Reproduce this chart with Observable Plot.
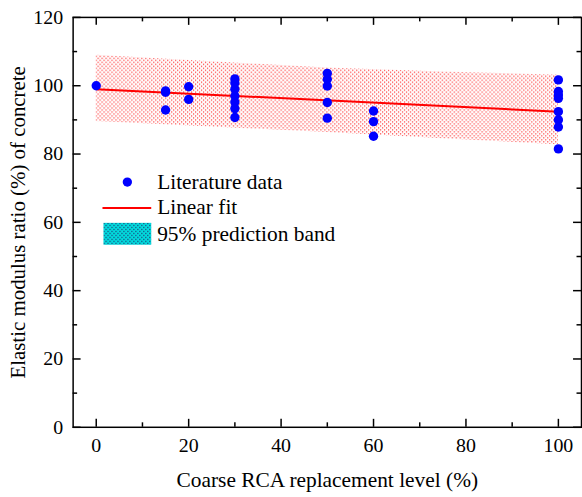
<!DOCTYPE html>
<html>
<head>
<meta charset="utf-8">
<script src="https://cdn.jsdelivr.net/npm/d3@7"></script>
<script src="https://cdn.jsdelivr.net/npm/@observablehq/plot@0.6"></script>
<style>
  html, body { margin: 0; padding: 0; background: #fff; overflow: hidden; }
  svg text { font-family: "Liberation Serif", "Times New Roman", Times, "DejaVu Serif", serif !important; }
</style>
</head>
<body>
<div id="chart"></div>
<script>
// ---- data ----
const pointX = [0, 15, 15, 15, 20, 20, 30, 30, 30, 30, 30, 30, 30, 50, 50, 50, 50, 50, 60, 60, 60, 100, 100, 100, 100, 100, 100, 100, 100];
const pointY = [100, 98.5, 98.1, 92.9, 99.7, 96.0, 102.0, 100.8, 99.0, 97.0, 95.2, 93.3, 90.7, 103.6, 101.9, 99.9, 95.1, 90.5, 92.6, 89.5, 85.2, 101.7, 98.3, 97.3, 96.3, 92.4, 90.0, 87.9, 81.5];
const fitX = [0, 100];
const fitY = [99.0, 92.4];
const bandX = [0, 25, 50, 75, 100];
const bandUpper = [108.9, 107.0, 105.2, 104.0, 103.1];
const bandLower = [89.5, 87.9, 86.3, 84.5, 82.7];
const xMajor = [0, 20, 40, 60, 80, 100];
const xMinor = [10, 30, 50, 70, 90];
const yMajor = [0, 20, 40, 60, 80, 100, 120];
const yMinor = [10, 30, 50, 70, 90, 110];
const xTitle = "Coarse RCA replacement level (%)";
const yTitle = "Elastic modulus ratio (%) of concrete";
const legendLabels = ["Literature data", "Linear fit", "95% prediction band"];

const points = pointX.map((x, i) => ({x, y: pointY[i]}));
const fit = fitX.map((x, i) => ({x, y: fitY[i]}));
const band = bandX.map((x, i) => ({x, lo: bandLower[i], hi: bandUpper[i]}));

const FONT = "'Liberation Serif', 'Times New Roman', Times, 'DejaVu Serif', serif";
const W = 585, H = 497, mL = 73, mR = 1, mT = 17, mB = 68;
const fw = W - mL - mR, fh = H - mT - mB;
const major = 8, minor = 4.5;

const plot = Plot.plot({
  width: W, height: H,
  marginLeft: mL, marginRight: mR, marginTop: mT, marginBottom: mB,
  style: {fontFamily: FONT, fontSize: "20px", color: "#000", background: "#fff"},
  x: {domain: [-5, 105], axis: null},
  y: {domain: [0, 120], axis: null},
  marks: [
    Plot.areaY(band, {x: "x", y1: "lo", y2: "hi", fill: "url(#dotpat)"}),
    Plot.line(fit, {x: "x", y: "y", stroke: "#ff0000", strokeWidth: 2}),
    Plot.dot(points, {x: "x", y: "y", r: 4.7, fill: "#0000ff", stroke: "none"}),
    // frame
    Plot.frame({stroke: "#000", strokeWidth: 1.5}),
    // ticks bottom / top
    Plot.tickX(xMajor, {x: d => d, insetTop: fh - major, stroke: "#000", strokeWidth: 1.5}),
    Plot.tickX(xMinor, {x: d => d, insetTop: fh - minor, stroke: "#000", strokeWidth: 1.5}),
    Plot.tickX(xMajor, {x: d => d, insetBottom: fh - major, stroke: "#000", strokeWidth: 1.5}),
    Plot.tickX(xMinor, {x: d => d, insetBottom: fh - minor, stroke: "#000", strokeWidth: 1.5}),
    // ticks left / right
    Plot.tickY(yMajor, {y: d => d, insetRight: fw - major, stroke: "#000", strokeWidth: 1.5}),
    Plot.tickY(yMinor, {y: d => d, insetRight: fw - minor, stroke: "#000", strokeWidth: 1.5}),
    Plot.tickY(yMajor, {y: d => d, insetLeft: fw - major, stroke: "#000", strokeWidth: 1.5}),
    Plot.tickY(yMinor, {y: d => d, insetLeft: fw - minor, stroke: "#000", strokeWidth: 1.5}),
    // tick labels
    Plot.axisX(xMajor, {tickSize: 0, tickPadding: 11, label: null, fontSize: 20}),
    Plot.axisY(yMajor, {tickSize: 0, tickPadding: 10, label: null, fontSize: 20}),
    // titles
    Plot.text([xTitle], {frameAnchor: "bottom", dy: 53, text: d => d, fontSize: 21.5, lineAnchor: "middle", textAnchor: "middle"}),
    Plot.text([yTitle], {frameAnchor: "left", dx: -55, dy: 0, rotate: -90, text: d => d, fontSize: 21, lineAnchor: "middle", textAnchor: "middle"})
  ]
});

const svg = d3.select(plot);
const defs = svg.insert("defs", ":first-child");
const p1 = defs.append("pattern").attr("id", "dotpat").attr("patternUnits", "userSpaceOnUse")
  .attr("width", 4).attr("height", 4);
p1.append("rect").attr("x", 0).attr("y", 0).attr("width", 1.2).attr("height", 1.2).attr("fill", "#ff2a2a");
p1.append("rect").attr("x", 2).attr("y", 2).attr("width", 1.2).attr("height", 1.2).attr("fill", "#ff2a2a");
const p2 = defs.append("pattern").attr("id", "legpat").attr("patternUnits", "userSpaceOnUse")
  .attr("width", 4).attr("height", 4);
p2.append("rect").attr("width", 4).attr("height", 4).attr("fill", "#00e0e0");
p2.append("rect").attr("x", 0).attr("y", 0).attr("width", 1.2).attr("height", 1.2).attr("fill", "#226");
p2.append("rect").attr("x", 2).attr("y", 2).attr("width", 1.2).attr("height", 1.2).attr("fill", "#226");

// legend
const lg = svg.append("g").attr("font-family", FONT).attr("font-size", 21.5).attr("fill", "#000").attr("text-anchor", "start");
lg.append("circle").attr("cx", 128).attr("cy", 183).attr("r", 4.7).attr("fill", "#0000ff");
lg.append("line").attr("x1", 103).attr("x2", 152).attr("y1", 209).attr("y2", 209).attr("stroke", "#ff0000").attr("stroke-width", 2);
lg.append("rect").attr("x", 104).attr("y", 224).attr("width", 48).attr("height", 22).attr("fill", "url(#legpat)");
const baselines = [189.5, 215.5, 242];
legendLabels.forEach((t, i) => {
  lg.append("text").attr("x", 158).attr("y", baselines[i]).attr("text-anchor", "start").text(t);
});

document.getElementById("chart").appendChild(plot);
</script>
</body>
</html>
